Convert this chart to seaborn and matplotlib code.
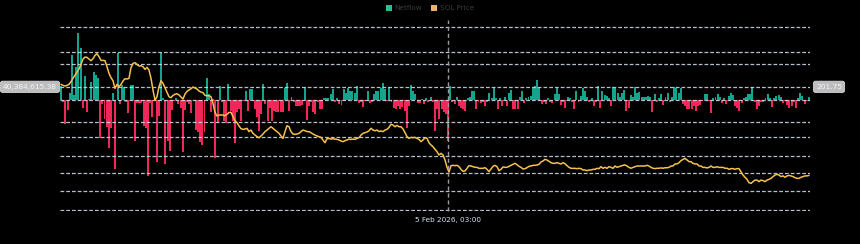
import numpy as np
import pandas as pd
import matplotlib
matplotlib.use("Agg")
import matplotlib.pyplot as plt
import matplotlib.transforms as mtransforms
from matplotlib.patches import Patch
import seaborn as sns

# ---------------- data ----------------
start_time = pd.Timestamp("2026-01-28 17:00")   # first hourly bar
crosshair_time = pd.Timestamp("2026-02-05 03:00")
crosshair_label = "5 Feb 2026, 03:00"
crosshair_netflow_label = "40,384,615.38"
crosshair_price_label = "201.75"
legend_labels = ["Netflow", "SOL Price"]

# hourly netflow, millions USD
netflow_m = [
    39, -4, -65, -27, 21, 123, 14, 90, 184, 142, -22, 65, -31, 3, 51, 77, 70, 62, -104, -10,
    -52, -72, -131, -75, 19, -189, 129, -10, 42, 37, -4, -36, 42, 42, -111, -7, -7, -9, -70, -75,
    -207, -9, -47, 3, -170, -43, 129, 5, -175, -111, -138, -27, -3, 5, -11, -20, -141, -27, -4, -11,
    -36, -3, -82, -88, -113, -123, -86, 62, 18, -31, 3, -159, -63, 39, -4, -56, -61, 45, -29, -56,
    -118, -31, -25, -56, -3, 25,
    -29, 30, 30, -25, -47, -84, -38, 44, -11, -56, -20, -56, -29, -31, -33, -32, -33, 32, 46, -29,
    10, -6, -15, -15, -15, -14, 37, -54, -15, -6, -33, -38, -5, -23, -23, 7, 5, 7, 16, 30,
    -6, 7, -11, -14, 30, 21, 34, 25, 25, 21, 39, -9, -6, -18, -2, 24, -8, -5, 16, 25,
    25, 34, 48, 30, -2, 36, -5, -20, -23, -15, -25, -18, -29, -77, -15, 41, 25, 16, -9, -9,
    3, -11, 7, -6, 10, -5,
    -84, -25, -52, -25, -33, -38, -111, 39, -6, -11, 10, -15, -20, -25, -29, 7, 10, 25, 25, -23,
    -6, -9, -5, -15, -6, 21, 7, 37, 7, -25, 5, -15, 9, -15, 21, 28, -23, -23, -25, 9,
    24, -9, 5, 9, 12, 34, 39, 55, 34, -11, -6, -11, 7, -5, -9, 16, 32, 16, -14, -5,
    -20, 9, 5, -6, -25, 25, -6, 12, 32, 25, 10, -5, 5, -15, -5, 39, -20, 24, 14, 12,
    5, -17, 37, 32, 21, 10, 21,
    28, -29, -20, 14, 10, 37, 21, 23, 10, 10, 10, 12, 9, -32, 18, -6, 7, 18, -14, 10,
    21, -6, 10, 37, 32, 21, 32, -11, -15, -23, -25, -25, -15, -29, -17, -14, -2, 18, 18, -2,
    -34, 7, 10, 16, 10, -9, 5, -11, 12, 21, 14, -15, -20, -29, -8, 7, 10, 16, 16, 37,
    -5, -25, -15, -5, -5, 5, 16, 7, -18, 5, 12, 14, 10, -9, -2, -14, -20, -15, -5, -20,
    7, 19, 12, -11, -2, 10,
]

# SOL price, sampled evenly over the same period
price = [
    201.40, 200.82, 200.44, 200.82, 201.40, 202.93, 204.85, 206.77, 208.50, 210.22,
    212.91, 215.98, 217.13, 216.93, 215.98, 215.02, 216.17, 218.09, 219.05, 217.32,
    215.21, 215.21, 215.02, 211.56, 207.73, 205.24, 203.51, 199.10, 201.40, 200.06,
    201.40, 203.32, 204.66, 204.47, 204.85, 210.99, 213.48, 213.87, 212.91, 211.95,
    212.14, 211.56, 210.03, 211.18, 209.64, 204.85, 198.14, 192.19, 194.30, 200.06,
    203.51, 201.98, 199.48, 196.79, 194.30, 193.72, 195.07, 195.64, 196.03, 195.26,
    194.11, 192.96, 195.84, 197.37, 198.14, 198.90, 199.86, 199.29, 198.71, 197.56,
    196.98, 196.60, 195.07, 194.87, 194.87, 194.30, 190.46, 185.28, 183.17, 183.75,
    183.75, 183.75, 183.36, 184.13, 185.28, 185.28, 182.79, 180.49, 179.34, 177.42,
    175.89, 175.50, 175.69,
    176.1, 174.2, 175.1, 173.2, 172.2, 171.3, 170.7, 171.7, 172.8,
    174.2, 175.1, 176.1, 177.0, 176.1, 175.1, 174.2, 173.2, 171.7, 170.3,
    174.2, 177.6, 177.0, 174.2, 172.8, 172.6, 172.8, 173.2, 174.2, 175.1,
    174.7, 174.2, 174.2, 173.6, 172.8, 172.2, 171.7, 171.3, 170.9, 169.4,
    167.8, 170.1, 170.3, 169.9, 170.1, 169.9, 169.7, 169.4, 168.8, 168.4,
    169.0, 169.4, 169.9, 169.7, 169.9, 169.7, 170.3, 170.7, 172.2, 173.2,
    173.6, 174.0, 174.7, 176.1, 175.1, 174.7, 175.1, 174.2, 174.6, 174.2,
    175.1, 175.5, 176.6, 178.4, 178.0, 177.0, 177.8, 177.0, 177.0, 175.7,
    173.6, 171.3, 170.3, 170.9, 170.7, 170.9, 170.3, 169.7, 168.4, 169.4,
    170.7, 170.3, 167.8, 166.5, 165.5, 164.0,
    162.65, 160.74, 161.70, 160.74, 157.86, 153.64, 150.96, 154.60, 154.79, 154.60,
    154.79, 154.02, 152.49, 151.34, 151.53, 153.06, 154.60, 154.41, 154.02, 153.64,
    153.64, 153.06, 153.06, 153.06, 153.45, 152.49, 151.15, 152.68, 154.21, 154.79,
    154.02, 151.72, 152.49, 153.83, 153.64, 153.64, 154.21, 154.79, 155.37, 155.94,
    155.17, 154.21, 153.64, 152.68, 152.87, 153.45, 154.21, 154.41, 154.79, 154.79,
    154.98, 155.37, 156.71, 157.28, 158.24, 157.86, 157.09, 156.33, 155.94, 155.94,
    156.33, 155.94, 155.56, 156.33, 155.75, 154.60, 153.64, 153.06, 153.06, 153.06,
    152.87, 153.06, 152.87, 152.11, 152.11, 151.72, 152.11, 152.11, 152.49, 152.49,
    153.06, 152.87, 154.02, 153.06, 153.64, 153.06, 154.02, 153.64, 153.06, 154.41,
    153.64, 154.02, 154.41, 154.79,
    155.0, 154.4, 153.6, 153.1, 153.6, 154.0, 154.4, 154.4, 154.4, 154.4,
    154.4, 154.8, 154.4, 153.6, 153.1, 152.9, 153.1, 153.1, 153.3, 153.1,
    153.4, 153.4, 153.6, 154.4, 154.4, 155.6, 155.6, 156.3, 157.5, 158.2,
    158.8, 157.9, 156.9, 156.9, 155.9, 155.6, 155.6, 154.4, 154.4, 153.6,
    153.6, 153.3, 153.6, 154.4, 153.6, 153.6, 154.0, 153.6, 153.6, 153.6,
    153.1, 153.1, 152.5, 152.9, 152.9, 152.5, 152.9, 152.9, 151.1, 149.2,
    147.9, 146.7, 144.8, 144.4, 145.4, 146.3, 146.3, 145.4, 146.3, 146.0,
    145.4, 146.3, 146.7, 147.3, 148.3, 149.2, 149.6, 149.2, 148.3, 148.7,
    147.9, 148.7, 149.0, 148.7, 148.3, 147.7, 147.3, 147.3, 147.9, 148.3,
    148.7, 148.7, 149.0,
]

netflow_ticks_m = [-300, -200, -100, 0, 100, 200]
price_ticks = [140, 160, 180, 200, 220]

# ---------------- derived frames ----------------
n_hours = len(netflow_m)
bar_df = pd.DataFrame({
    "hour": np.arange(n_hours),
    "netflow": np.array(netflow_m) * 1e6,
})
bar_df["dir"] = np.where(bar_df["netflow"] >= 0, "in", "out")
price_df = pd.DataFrame({
    "hour": np.linspace(0, n_hours - 1, len(price)),
    "price": price,
})
cross_hour = (crosshair_time - start_time) / pd.Timedelta(hours=1)

GREEN = "#12a48c"
RED = "#f0285a"
GOLD = "#f6c14a"
GRID = "#cdd5e4"

# ---------------- figure ----------------
sns.set_theme(style="dark", rc={
    "axes.facecolor": "black", "figure.facecolor": "black",
    "axes.edgecolor": "black", "savefig.facecolor": "black",
})
plt.rcParams["font.family"] = ["DejaVu Sans"]

W, H = 860, 244
fig = plt.figure(figsize=(W / 100, H / 100), dpi=100, facecolor="black")
ax = fig.add_axes([60 / W, 1 - 211 / H, 750 / W, 185 / H])
ax.set_facecolor("black")

sns.barplot(data=bar_df, x="hour", y="netflow", hue="dir",
            palette={"in": GREEN, "out": RED}, native_scale=True, saturation=1,
            dodge=False, width=0.9, linewidth=0, legend=False, ax=ax)
ax.set_xlim(-0.46, n_hours - 1 + 0.46)
ax.set_ylim(-302.7e6, 202.7e6)
ax.set_yticks([v * 1e6 for v in netflow_ticks_m])
ax.set_axisbelow(False)
ax.grid(axis="y", color=GRID, linestyle=(0, (3, 1.6)), linewidth=0.9, alpha=0.9)
ax.grid(axis="x", visible=False)

ax2 = ax.twinx()
sns.lineplot(data=price_df, x="hour", y="price", ax=ax2, color=GOLD,
             linewidth=1.1, legend=False)
ax2.set_ylim(128.5, 235.0)
ax2.set_yticks(price_ticks)
ax2.grid(axis="y", color=GRID, linestyle=(0, (3, 1.6)), linewidth=0.9, alpha=0.9)
ax2.grid(axis="x", visible=False)

for a in (ax, ax2):
    a.set_xlabel("")
    a.set_ylabel("")
    a.tick_params(left=False, right=False, bottom=False,
                  labelleft=False, labelright=False, labelbottom=False)
    for s in a.spines.values():
        s.set_visible(False)

# crosshair
ax2.axvline(cross_hour, ymin=0, ymax=1.035, color="#9a9a9a",
            linestyle=(0, (3, 2)), linewidth=1, clip_on=False)
trans = mtransforms.blended_transform_factory(ax.transData, ax.transAxes)
ax.text(cross_hour, -0.035, crosshair_label, transform=trans, ha="center",
        va="top", fontsize=5.2, color="#d4e4f7")

ytrans_l = mtransforms.blended_transform_factory(fig.transFigure, ax2.transData)
box = dict(boxstyle="round,pad=0.35,rounding_size=0.3", fc="#bdbdbd", ec="#d8d8d8", lw=0.6)
ax2.text(30 / W, 200, crosshair_netflow_label, transform=ytrans_l, ha="center",
         va="center", fontsize=5.4, color="#eef6ff", bbox=box, clip_on=False)
ax2.text(829 / W, 200, crosshair_price_label, transform=ytrans_l, ha="center",
         va="center", fontsize=5.4, color="#eef6ff", bbox=box, clip_on=False)

# legend
handles = [Patch(facecolor="#20c497", edgecolor="none"),
           Patch(facecolor="#e9b46a", edgecolor="none")]
leg = fig.legend(handles, legend_labels, loc="center", bbox_to_anchor=(430 / W, 1 - 8 / H),
                 ncol=2, frameon=False, fontsize=5.2, handlelength=0.8, handleheight=0.9,
                 handletextpad=0.4, columnspacing=1.2, borderpad=0)
for t in leg.get_texts():
    t.set_color("#3c3c3c")

fig.savefig("out.png", dpi=100, facecolor="black")
